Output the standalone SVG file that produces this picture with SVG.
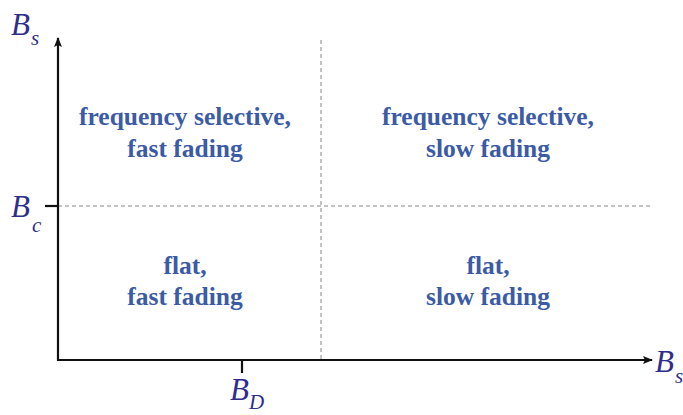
<svg xmlns="http://www.w3.org/2000/svg" width="683" height="415" viewBox="0 0 683 415">
<style>
.ax{stroke:#111;stroke-width:2.2;fill:none}
.dash{stroke:#888;stroke-width:1;stroke-dasharray:4,3;fill:none}
.lab{font-family:"Liberation Serif",serif;font-weight:bold;font-size:25.5px;fill:#3b5ba5;text-anchor:middle}
.sym{font-family:"Liberation Serif",serif;font-style:italic;font-size:31px;fill:#2e2e8c}
.sub{font-family:"Liberation Serif",serif;font-style:italic;font-size:21px;fill:#2e2e8c}
</style>
<defs>
<marker id="ah" markerWidth="10" markerHeight="8" refX="9" refY="4" orient="auto" markerUnits="userSpaceOnUse">
<path d="M0,0 L10,4 L0,8 L2,4 Z" fill="#111"/>
</marker>
</defs>
<rect width="683" height="415" fill="#fff"/>
<g id="connectors">
<line class="dash" x1="321" y1="40" x2="321" y2="360"/>
<line class="dash" x1="58" y1="206" x2="650" y2="206"/>
<line class="ax" x1="58" y1="361" x2="58" y2="38" marker-end="url(#ah)"/>
<line class="ax" x1="57" y1="360" x2="652" y2="360" marker-end="url(#ah)"/>
<line class="ax" x1="45" y1="206" x2="58" y2="206"/>
<line class="ax" x1="242" y1="360" x2="242" y2="373"/>
</g>
<g id="axis-labels">
<text class="sym" x="11" y="35">B<tspan class="sub" dx="1" dy="10">s</tspan></text>
<text class="sym" x="11" y="217">B<tspan class="sub" dx="2" dy="15">c</tspan></text>
<text class="sym" x="230" y="400">B<tspan class="sub" dx="0" dy="9">D</tspan></text>
<text class="sym" x="655" y="372">B<tspan class="sub" dx="1" dy="11">s</tspan></text>
</g>
<g id="q1"><text class="lab" x="185" y="125">frequency selective,</text><text class="lab" x="185" y="157">fast fading</text></g>
<g id="q2"><text class="lab" x="488" y="125">frequency selective,</text><text class="lab" x="488" y="157">slow fading</text></g>
<g id="q3"><text class="lab" x="185" y="274">flat,</text><text class="lab" x="185" y="305">fast fading</text></g>
<g id="q4"><text class="lab" x="488" y="274">flat,</text><text class="lab" x="488" y="305">slow fading</text></g>
</svg>
